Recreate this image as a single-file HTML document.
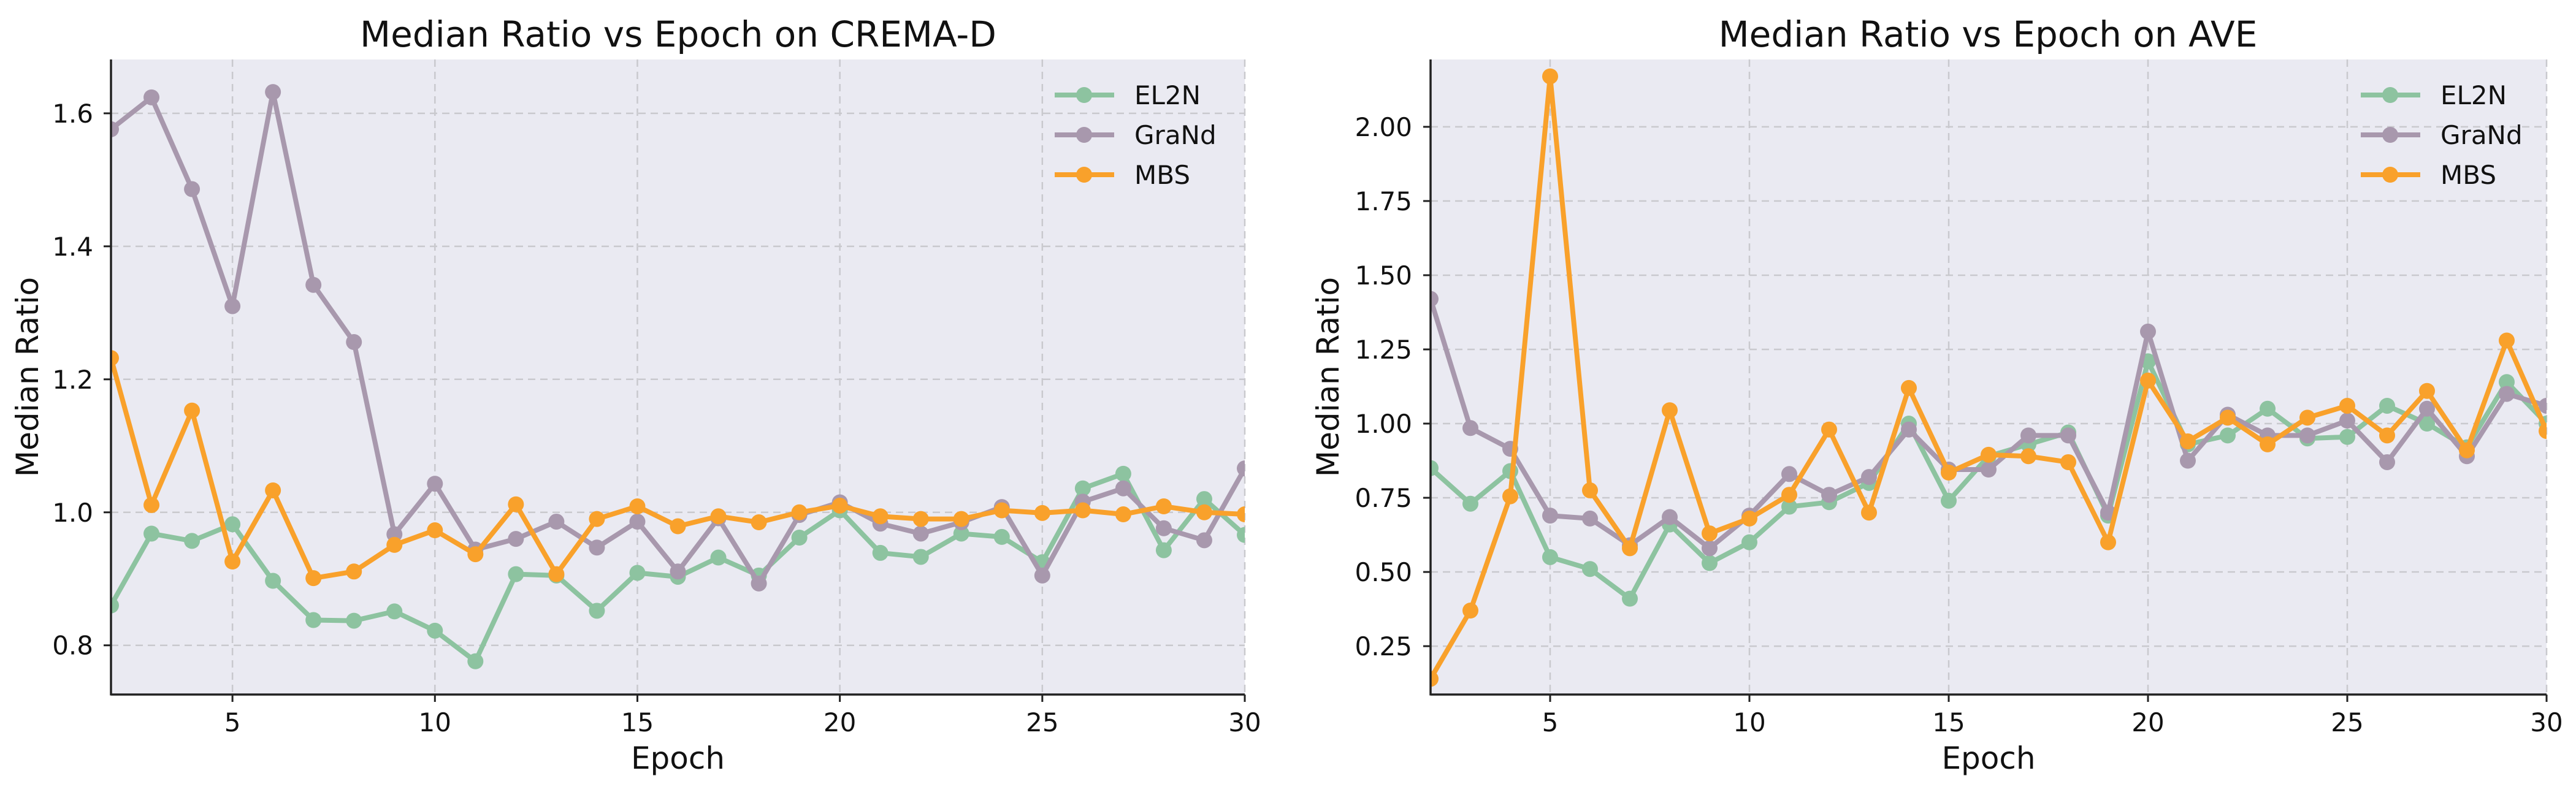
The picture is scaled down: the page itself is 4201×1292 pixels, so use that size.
<!DOCTYPE html>
<html><head><meta charset="utf-8"><style>
html,body{margin:0;padding:0;background:#fff;}
svg{display:block;font-family:"DejaVu Sans","Liberation Sans",sans-serif;}
</style></head><body>
<svg id="fig" width="4201" height="1292" viewBox="0 0 4201 1292" xmlns="http://www.w3.org/2000/svg"></svg>
<script>
const epochs = [2,3,4,5,6,7,8,9,10,11,12,13,14,15,16,17,18,19,20,21,22,23,24,25,26,27,28,29,30];
const cremaEL2N = [0.86,0.968,0.957,0.982,0.897,0.838,0.837,0.851,0.822,0.776,0.907,0.905,0.852,0.909,0.903,0.932,0.905,0.962,1.003,0.939,0.933,0.968,0.963,0.925,1.036,1.058,0.943,1.02,0.966];
const cremaGraNd = [1.576,1.624,1.486,1.31,1.632,1.342,1.256,0.967,1.043,0.944,0.96,0.986,0.947,0.986,0.911,0.991,0.893,0.996,1.015,0.983,0.968,0.985,1.008,0.905,1.016,1.036,0.976,0.958,1.066];
const cremaMBS = [1.232,1.011,1.153,0.926,1.033,0.901,0.911,0.951,0.973,0.937,1.012,0.907,0.99,1.009,0.979,0.994,0.985,1.0,1.01,0.994,0.99,0.99,1.003,0.999,1.003,0.997,1.009,1.0,0.997];
const aveEL2N = [0.85,0.73,0.84,0.55,0.51,0.41,0.66,0.53,0.60,0.72,0.735,0.80,1.0,0.74,0.89,0.93,0.97,0.69,1.21,0.93,0.96,1.05,0.95,0.955,1.06,1.0,0.92,1.14,1.0];
const aveGraNd = [1.42,0.985,0.915,0.69,0.68,0.59,0.685,0.58,0.69,0.83,0.76,0.82,0.98,0.845,0.845,0.96,0.96,0.70,1.31,0.875,1.03,0.96,0.96,1.01,0.87,1.05,0.89,1.10,1.06];
const aveMBS = [0.14,0.37,0.755,2.17,0.775,0.58,1.045,0.63,0.68,0.76,0.98,0.70,1.12,0.835,0.895,0.89,0.87,0.60,1.145,0.94,1.02,0.93,1.02,1.06,0.96,1.11,0.91,1.28,0.975];
const xTicks = [5,10,15,20,25,30];
const cremaYTicks = [0.8,1.0,1.2,1.4,1.6];
const aveYTicks = [0.25,0.5,0.75,1.0,1.25,1.5,1.75,2.0];
const seriesNames = ["EL2N","GraNd","MBS"];
const colors = ["#8dc3a0","#a898ad","#f9a12b"];

const NS="http://www.w3.org/2000/svg";
const svg=document.getElementById('fig');
function mk(tag,attrs,parent){const e=document.createElementNS(NS,tag);for(const k in attrs)e.setAttribute(k,attrs[k]);(parent||svg).appendChild(e);return e;}

function drawChart(id,L,R,T,B,xmin,xmax,ymin,ymax,yTicks,yFmt,series,title,titleX,ylabX,tickRight,legX){
  const g=mk('g',{});
  
  
  const sx=v=>L+(v-xmin)/(xmax-xmin)*(R-L);
  const sy=v=>B-(v-ymin)/(ymax-ymin)*(B-T);
  const bg=mk('rect',{x:L,y:T,width:R-L,height:B-T,fill:'#eaeaf2'},g);
  
  
  const cp=mk('clipPath',{id:id+'-clip'},g);
  mk('rect',{x:L,y:T,width:R-L,height:B-T},cp);
  xTicks.forEach(t=>{
    const gl=mk('line',{x1:sx(t),x2:sx(t),y1:T,y2:B,stroke:'#c9c9ce','stroke-width':2.5,'stroke-dasharray':'12 8'},g);
    
    
    mk('line',{x1:sx(t),x2:sx(t),y1:B,y2:B+12,stroke:'#222','stroke-width':3},g);
    const tl=mk('text',{x:sx(t),y:B+60,'font-size':42,'text-anchor':'middle',fill:'#111'},g);
    tl.textContent=t;
    
    
  });
  yTicks.forEach(t=>{
    const gl=mk('line',{x1:L,x2:R,y1:sy(t),y2:sy(t),stroke:'#c9c9ce','stroke-width':2.5,'stroke-dasharray':'12 8'},g);
    
    
    mk('line',{x1:L-12,x2:L,y1:sy(t),y2:sy(t),stroke:'#222','stroke-width':3},g);
    const tl=mk('text',{x:tickRight,y:sy(t)+15,'font-size':42,'text-anchor':'end',fill:'#111'},g);
    tl.textContent=yFmt(t);
    
    
  });
  const dg=mk('g',{'clip-path':'url(#'+id+'-clip)'},g);
  series.forEach((vals,si)=>{
    const pts=vals.map((v,i)=>sx(epochs[i])+','+sy(v)).join(' ');
    const pl=mk('polyline',{points:pts,fill:'none',stroke:colors[si],'stroke-width':8,'stroke-linejoin':'round'},dg);
    
    
    vals.forEach((v,i)=>{
      const c=mk('circle',{cx:sx(epochs[i]),cy:sy(v),r:13,fill:colors[si]},dg);
      
      
    });
  });
  mk('line',{x1:L,x2:L,y1:T,y2:B+1.5,stroke:'#222','stroke-width':3.5},g);
  mk('line',{x1:L,x2:R,y1:B,y2:B,stroke:'#222','stroke-width':3.5},g);
  const tt=mk('text',{x:titleX,y:76,'font-size':58,'text-anchor':'middle',fill:'#111'},g);
  tt.textContent=title;
  
  
  const xl=mk('text',{x:(L+R)/2,y:1254,'font-size':50,'text-anchor':'middle',fill:'#111'},g);
  xl.textContent='Epoch';
  
  
  const yl=mk('text',{x:ylabX,y:(T+B)/2,'font-size':50,'text-anchor':'middle',fill:'#111',transform:'rotate(-90 '+ylabX+' '+((T+B)/2)+')'},g);
  yl.textContent='Median Ratio';
  
  
  const rows=[155,220,285];
  seriesNames.forEach((n,si)=>{
    const lg=mk('g',{},g);
    
    
    mk('line',{x1:legX,x2:legX+97,y1:rows[si],y2:rows[si],stroke:colors[si],'stroke-width':8},lg);
    mk('circle',{cx:legX+48,cy:rows[si],r:13,fill:colors[si]},lg);
    const t=mk('text',{x:legX+130,y:rows[si]+15,'font-size':42,fill:'#111'},lg);
    t.textContent=n;
  });
}
drawChart('crema',181,2030,97,1133,2,30,0.726,1.681,cremaYTicks,v=>v.toFixed(1),[cremaEL2N,cremaGraNd,cremaMBS],'Median Ratio vs Epoch on CREMA-D',1106,62,152,1720);
drawChart('ave',2333,4153,97,1133,2,30,0.087,2.227,aveYTicks,v=>v.toFixed(2),[aveEL2N,aveGraNd,aveMBS],'Median Ratio vs Epoch on AVE',3242,2183,2303,3850);
</script>
</body></html>
